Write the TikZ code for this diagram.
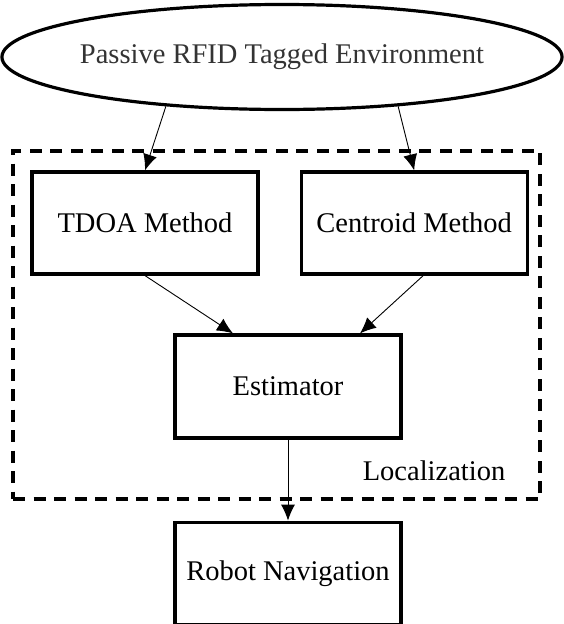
\documentclass[tikz,border=0pt]{standalone}
\usepackage{fontspec}
\setmainfont{Liberation Serif}
\usepackage{tikz}
\usetikzlibrary{positioning,shapes.geometric,fit,arrows.meta,calc}

\begin{document}
\begin{tikzpicture}
  [
      x=1pt, y=1pt,
      font=\fontsize{28.5}{34}\selectfont,
      box/.style={rectangle, draw, line width=3.2pt, minimum width=226pt, minimum height=102pt, inner sep=0pt},
      env box/.style={ellipse, draw, line width=3.2pt, minimum width=556pt, minimum height=105pt, inner xsep=-4pt, inner ysep=0pt, text=black!80},
      loc box/.style={rectangle, draw, line width=3.2pt, dash pattern=on 12pt off 8.5pt, minimum width=527pt, minimum height=348pt},
      my arrow/.style={-{Latex[length=16pt, width=14pt]}, line width=0.9pt},
    ]
    \useasboundingbox (0,0) rectangle (564,-624);

    \node (env) [env box] at (282,-57) {Passive RFID Tagged Environment};
    \node (loc) [loc box] at (276.5,-325) {};
    \node (tdoa) [box] at (145,-223) {TDOA Method};
    \node (cent) [box, right=40pt of tdoa] {Centroid Method};
    \node (est) [box, minimum height=103pt] at (288,-386.5) {Estimator};
    \node (robot) [box, below=81pt of est] {Robot Navigation};
    \node (loclabel) at (434,-471) {Localization};

    \coordinate (est in1) at ([xshift=-55pt]est.north);
    \coordinate (est in2) at ([xshift=72pt]est.north);
    \coordinate (cent out) at ([xshift=9pt]cent.south);

    \foreach \i/\j in {env.203/tdoa.north, env.337/cent.north, tdoa.south/est in1, cent out/est in2, est.south/robot.north}
      \draw [my arrow] (\i) -- (\j);
  \end{tikzpicture}
\end{document}
